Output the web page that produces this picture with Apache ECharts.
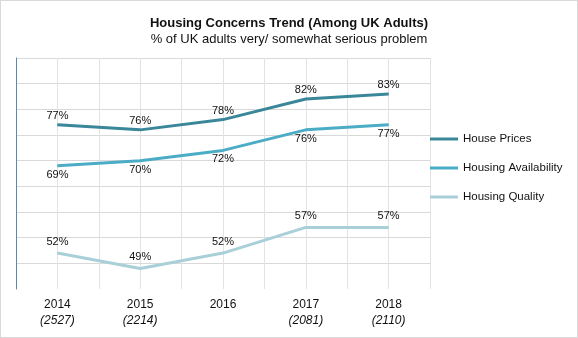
<!DOCTYPE html>
<html>
<head>
<meta charset="utf-8">
<script src="https://cdn.jsdelivr.net/npm/echarts@6/dist/echarts.min.js"></script>
<style>
html,body{margin:0;padding:0;background:#fff;}
#c{width:576px;height:336px;border:1px solid #d9d9d9;}
</style>
</head>
<body>
<div id="c"></div>
<script>
var years = ['2014', '2015', '2016', '2017', '2018'];
var sampleSizes = ['(2527)', '(2214)', '', '(2081)', '(2110)'];
var housePrices = [77, 76, 78, 82, 83];
var housingAvailability = [69, 70, 72, 76, 77];
var housingQuality = [52, 49, 52, 57, 57];
var seriesNames = ['House Prices', 'Housing Availability', 'Housing Quality'];
var colors = ['#3A8799', '#4BACC6', '#A9CFD8'];

var chart = echarts.init(document.getElementById('c'));
var font = '"Liberation Sans", Arial, sans-serif';

function lineSeries(name, data, color, pos, dist) {
  return {
    name: name, type: 'line', data: data,
    xAxisIndex: 0, yAxisIndex: 0,
    symbol: 'circle', symbolSize: 1,
    itemStyle: {color: color},
    lineStyle: {color: color, width: 3},
    label: {show: true, position: pos, distance: dist, formatter: '{c}%',
      color: '#111', fontSize: 11, fontFamily: font},
    emphasis: {disabled: true},
    animation: false
  };
}

chart.setOption({
  animation: false,
  textStyle: {fontFamily: font},
  title: {
    text: 'Housing Concerns Trend (Among UK Adults)',
    subtext: '% of UK adults very/ somewhat serious problem',
    left: 'center', top: 11, itemGap: 3,
    textStyle: {fontSize: 13, fontWeight: 'bold', color: '#111', fontFamily: font},
    subtextStyle: {fontSize: 13, color: '#111', fontFamily: font}
  },
  legend: {
    orient: 'vertical', left: 424, top: 126,
    itemWidth: 28, itemHeight: 3, itemGap: 15,
    icon: 'rect',
    textStyle: {fontSize: 11.5, color: '#111', fontFamily: font, lineHeight: 14},
    data: seriesNames
  },
  grid: {left: 15, right: 147, top: 57, bottom: 48, containLabel: false},
  xAxis: [{
    type: 'category', data: years, boundaryGap: true,
    axisLine: {show: false}, axisTick: {show: false}, splitLine: {show: false},
    axisLabel: {
      margin: 8,
      formatter: function (v, i) {
        return '{y|' + v + '}' + (sampleSizes[i] ? '\n{n|' + sampleSizes[i] + '}' : '\n{n| }');
      },
      rich: {
        y: {fontSize: 12, color: '#111', lineHeight: 16, fontFamily: font},
        n: {fontSize: 12, color: '#111', fontStyle: 'italic', lineHeight: 16, fontFamily: font}
      }
    }
  }, {
    type: 'value', min: 0, max: 10, interval: 1, position: 'top',
    axisLine: {show: false}, axisTick: {show: false}, axisLabel: {show: false},
    splitLine: {show: true, lineStyle: {color: '#e3e3e3', width: 1}}
  }],
  yAxis: {
    type: 'value', min: 45, max: 90, interval: 5,
    axisLine: {show: true, lineStyle: {color: '#5a88b3', width: 1}},
    axisTick: {show: false}, axisLabel: {show: false},
    splitLine: {show: true, showMinLine: false, lineStyle: {color: '#d9d9d9', width: 1}}
  },
  series: [
    lineSeries(seriesNames[0], housePrices, colors[0], 'top', 3),
    lineSeries(seriesNames[1], housingAvailability, colors[1], 'bottom', 3),
    lineSeries(seriesNames[2], housingQuality, colors[2], 'top', 5)
  ]
});
</script>
</body>
</html>
